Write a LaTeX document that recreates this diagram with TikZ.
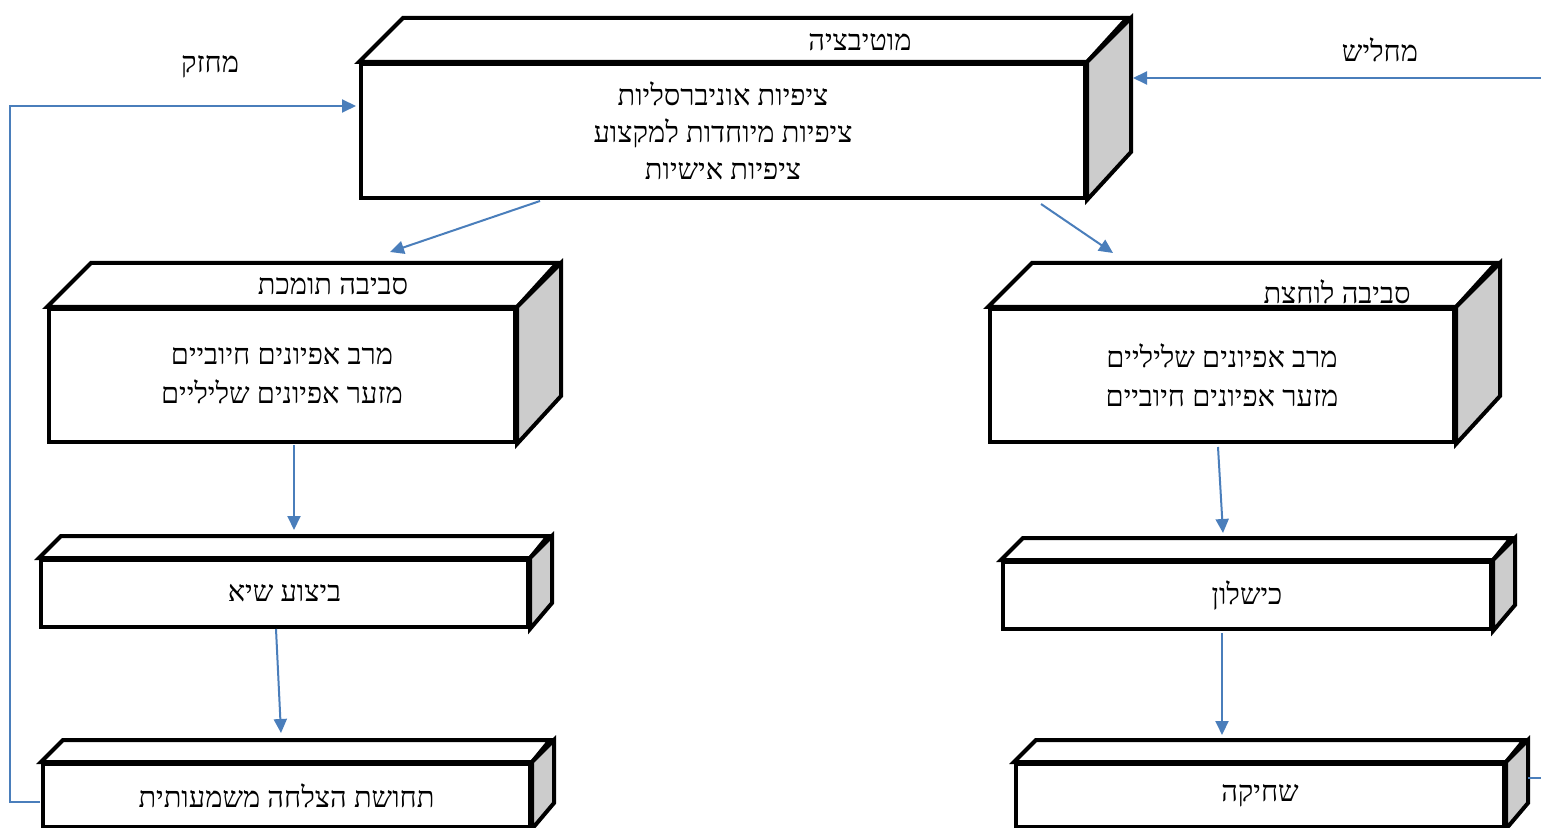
\documentclass[tikz,border=0pt]{standalone}
\usepackage{fontspec}
\usetikzlibrary{arrows.meta,calc}
\TeXXeTstate=1
\newfontfamily\heb[Script=Hebrew]{Liberation Serif}
\definecolor{linkblue}{HTML}{4A7EBB}
\definecolor{sidegray}{HTML}{CCCCCC}
\tikzset{
  x=0.5pt, y=-0.5pt,
  front/.style={draw, line width=2pt, fill=white, inner sep=0pt, align=center,
    font=\heb\fontsize{14.5}{18.5}\selectfont},
  topface/.style={draw, line width=2pt, fill=white, line join=miter},
  sideface/.style={draw, line width=2pt, fill=sidegray, line join=miter},
  conn/.style={draw=linkblue, line width=1pt, -{Triangle[length=7pt,width=6.5pt]}},
  plainconn/.style={draw=linkblue, line width=1pt},
  lbl/.style={inner sep=0pt, font=\heb\fontsize{14.5}{18.5}\selectfont},
}
% name, x1, y1, x2, y2, depth, text
\newcommand\cuboidbox[7]{%
  \node[front, anchor=north west, minimum width={(#4-#2)*0.5pt}, minimum height={(#5-#3)*0.5pt}] (#1) at (#2,#3) {#7};
  \draw[topface] (#1.north west) -- ++(#6,-#6) -- ++({#4-#2},0) -- (#1.north east) -- cycle;
  \draw[sideface] (#1.north east) -- ++(#6,-#6) -- ++(0,{#5-#3}) -- (#1.south east) -- cycle;
}
\begin{document}
\begin{tikzpicture}
\clip (0,0) rectangle (1541,828);
\fill[white] (0,0) rectangle (1541,828);

\cuboidbox{mot}{359}{62}{1083}{196}{44}{\beginR ציפיות אוניברסליות\endR\\ \beginR ציפיות מיוחדות למקצוע\endR\\ \beginR ציפיות אישיות\endR}
\node[lbl] (motl) at (860,42) {\beginR מוטיבציה\endR};

\cuboidbox{sup}{47}{307}{513}{440}{44}{\beginR מרב אפיונים חיוביים\endR\\[1pt] \beginR מזער אפיונים שליליים\endR}
\node[lbl] (supl) at (333,286) {\beginR סביבה תומכת\endR};

\cuboidbox{pre}{988}{307}{1452}{440}{44}{\beginR מרב אפיונים שליליים\endR\\[1pt] \beginR מזער אפיונים חיוביים\endR}
\node[lbl] (prel) at (1337,292) {\beginR סביבה לוחצת\endR};

\cuboidbox{peak}{39}{558}{526}{625}{22}{\beginR ביצוע שיא\endR}
\cuboidbox{fail}{1001}{560}{1489}{627}{22}{\beginR כישלון\endR}
\cuboidbox{succ}{41}{762}{528}{825}{22}{\raisebox{-1.5pt}{\beginR תחושת הצלחה משמעותית\endR}}
\cuboidbox{burn}{1014}{762}{1502}{825}{22}{\raisebox{-1.5pt}{\beginR שחיקה\endR}}

\node[lbl] (strong) at (210,67) {\beginR מחזק\endR};
\node[lbl] (weak) at (1380,50) {\beginR מחליש\endR};

% connectors
\coordinate (a1s) at (540,201); \coordinate (a1e) at (390,252);
\coordinate (a2s) at (1041,204); \coordinate (a2e) at (1113,253);
\coordinate (a3s) at (294,445); \coordinate (a3e) at (294,530);
\coordinate (a4s) at (1218,447); \coordinate (a4e) at (1223,533);
\coordinate (a5s) at (276,629); \coordinate (a5e) at (281,733);
\coordinate (a6s) at (1222,633); \coordinate (a6e) at (1222,735);
\draw[conn] (a1s) -- (a1e);
\draw[conn] (a2s) -- (a2e);
\draw[conn] (a3s) -- (a3e);
\draw[conn] (a4s) -- (a4e);
\draw[conn] (a5s) -- (a5e);
\draw[conn] (a6s) -- (a6e);

\coordinate (fbs) at (40,802);
\coordinate (fbe) at (356,106);
\draw[conn] (fbs) -- (10,802) -- (10,106) -- (fbe);

\coordinate (ws) at (1541,78);
\coordinate (we) at (1133,78);
\draw[conn] (ws) -- (we);

\coordinate (bs) at (1528,778);
\coordinate (be) at (1541,778);
\draw[plainconn] (bs) -- (be);
\end{tikzpicture}
\end{document}
